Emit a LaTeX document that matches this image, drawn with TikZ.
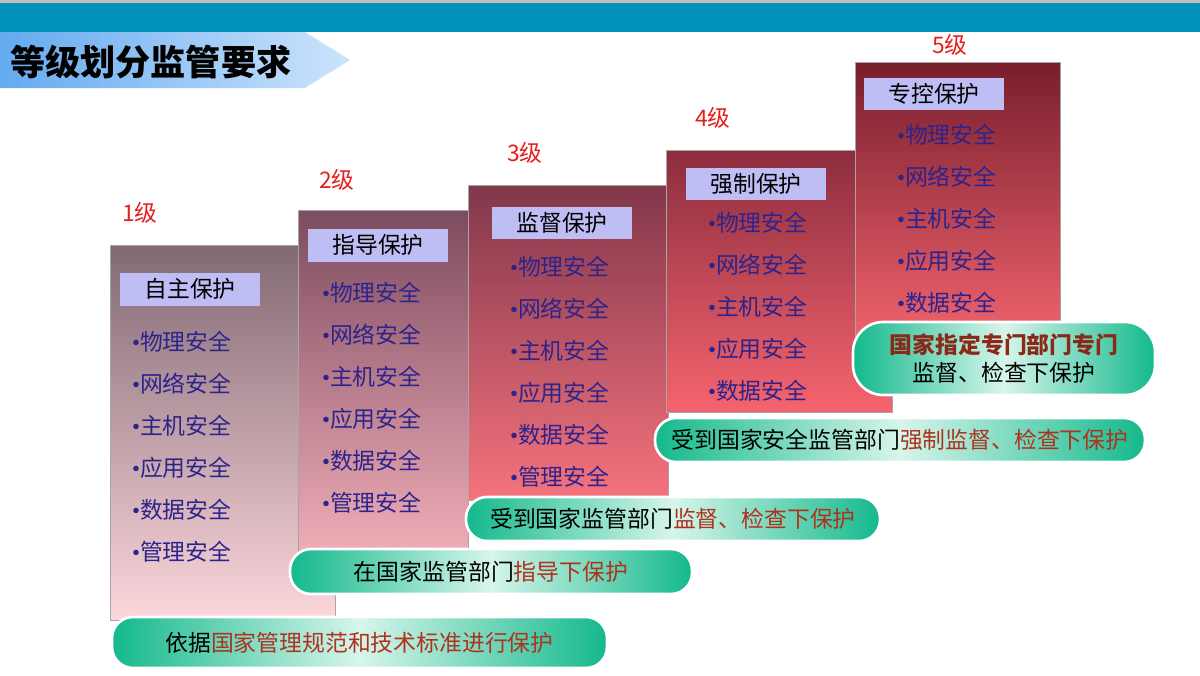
\documentclass[tikz,border=0pt]{standalone}
\usepackage{fontspec}
\setmainfont{Noto Sans CJK SC}
\newfontfamily\latfont{Liberation Serif}
\usetikzlibrary{positioning}
\definecolor{barteal}{RGB}{0,145,185}
\definecolor{levelred}{RGB}{230,30,30}
\definecolor{itemblue}{RGB}{45,35,140}
\definecolor{tagblue}{RGB}{190,190,245}
\definecolor{pillteal}{RGB}{20,185,140}
\definecolor{pilllight}{RGB}{215,245,235}
\definecolor{redtext}{RGB}{175,50,30}
\tikzset{
  level/.style={text=levelred, font=\fontsize{13}{15}\selectfont},
  tag/.style={fill=tagblue, minimum width=2.8cm, minimum height=0.66cm, inner sep=2pt, text=black, font=\fontsize{13}{15}\selectfont},
  item/.style={anchor=west, text=itemblue, font=\fontsize{13}{15}\selectfont, inner sep=1pt},
  pill/.style={rounded corners=0.42cm, draw=white, line width=1.5pt, left color=pillteal, right color=pillteal, middle color=pilllight, font=\fontsize{13}{16}\selectfont, align=center}
}
\newcommand\dotitem[1]{{\latfont•}#1}
\begin{document}
\begin{tikzpicture}[x=0.02cm, y=-0.02cm]
  \useasboundingbox (0,0) rectangle (1200,676);
  \fill[gray!50] (0,0) rectangle (1200,3);
  \fill[barteal] (0,3) rectangle (1200,32);
  % title arrow
  \shade[left color={rgb,255:red,100;green,170;blue,240}, right color={rgb,255:red,205;green,228;blue,252}]
    (0,32) -- (305,32) -- (350,60) -- (305,88) -- (0,88) -- cycle;
  \node[anchor=west, font=\bfseries\fontsize{20}{24}\selectfont] (title) at (4,62) {等级划分监管要求};

  % level boxes
  \shade[top color={rgb,255:red,130;green,105;blue,115}, bottom color={rgb,255:red,252;green,215;blue,220}, draw=gray!70] (110,245) rectangle (335,620);
  \shade[top color={rgb,255:red,125;green,75;blue,95}, bottom color={rgb,255:red,242;green,175;blue,185}, draw=gray!70] (298,210) rectangle (468,560);
  \shade[top color={rgb,255:red,130;green,55;blue,75}, bottom color={rgb,255:red,245;green,115;blue,125}, draw=gray!70] (468,185) rectangle (668,500);
  \shade[top color={rgb,255:red,140;green,45;blue,62}, bottom color={rgb,255:red,245;green,100;blue,110}, draw=gray!70] (666,150) rectangle (892,412);
  \shade[top color={rgb,255:red,120;green,30;blue,45}, bottom color={rgb,255:red,242;green,100;blue,110}, draw=gray!70] (855,62) rectangle (1060,345);

  \node[level] (l1) at (140,213) {1级};
  \node[level] (l2) at (337,180) {2级};
  \node[level] (l3) at (525,153) {3级};
  \node[level] (l4) at (713,118) {4级};
  \node[level] (l5) at (950,45) {5级};

  \node[tag] (t1) at (190,289) {自主保护};
  \node[tag] (t2) at (378,245) {指导保护};
  \node[tag] (t3) at (562,223) {监督保护};
  \node[tag] (t4) at (756,184) {强制保护};
  \node[tag] (t5) at (934,94) {专控保护};

  \foreach \txt [count=\i] in {物理安全,网络安全,主机安全,应用安全,数据安全,管理安全} {
    \node[item] (a\i) at (130,300+42*\i) {\dotitem{\txt}};
    \node[item] (b\i) at (320,251+42*\i) {\dotitem{\txt}};
    \node[item] (c\i) at (508,225+42*\i) {\dotitem{\txt}};
  }
  \foreach \txt [count=\i] in {物理安全,网络安全,主机安全,应用安全,数据安全} {
    \node[item] (d\i) at (706,181+42*\i) {\dotitem{\txt}};
    \node[item] (e\i) at (895,93+42*\i) {\dotitem{\txt}};
  }

  % supervision pills
  \node[pill, minimum width=9.9cm, minimum height=1.02cm] (pa) at (359.5,642.5) {依据\textcolor{redtext}{国家管理规范和技术标准进行保护}};
  \node[pill, minimum width=8.04cm, minimum height=0.9cm] (pb) at (491,571.5) {在国家监管部门\textcolor{redtext}{指导下保护}};
  \node[pill, minimum width=8.28cm, minimum height=0.88cm] (pc) at (673,519) {受到国家监管部门\textcolor{redtext}{监督、检查下保护}};
  \node[pill, minimum width=9.8cm, minimum height=0.88cm] (pd) at (900,440) {受到国家安全监管部门\textcolor{redtext}{强制监督、检查下保护}};
  \node[pill, minimum width=6.04cm, minimum height=1.46cm, rounded corners=0.6cm] (pe) at (1004,358.5) {\textbf{\textcolor{redtext!80!black}{国家指定专门部门专门}}\\监督、检查下保护};
\end{tikzpicture}
\end{document}
